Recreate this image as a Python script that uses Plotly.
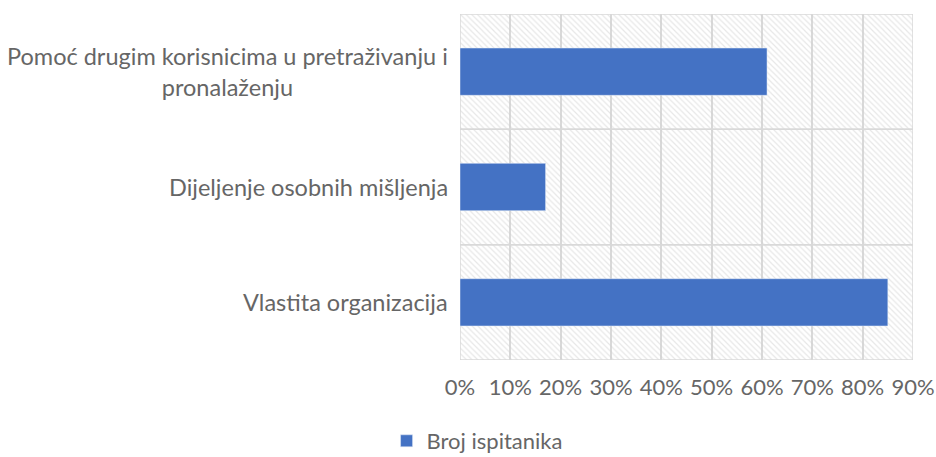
import plotly.graph_objects as go

# categories listed top to bottom
categories = [
    "Pomoć drugim korisnicima u pretraživanju i<br>pronalaženju",
    "Dijeljenje osobnih mišljenja",
    "Vlastita organizacija",
]
values = [0.61, 0.17, 0.85]
series_name = "Broj ispitanika"
x_max = 0.9

grid = "#d9d9d9"
text_color = "#666666"
font_family = "Lato, Open Sans, sans-serif"

fig = go.Figure()

# hatched background bands (one per category) to mimic the patterned plot area
fig.add_trace(go.Bar(
    y=categories,
    x=[x_max] * len(categories),
    orientation="h",
    width=1,
    marker=dict(
        color="rgba(0,0,0,0)",
        line=dict(color=grid, width=1.5),
        pattern=dict(shape="\\", fgcolor="#d0d0d0", bgcolor="rgba(0,0,0,0)",
                     size=4, solidity=0.3),
    ),
    showlegend=False,
    hoverinfo="skip",
))

fig.add_trace(go.Bar(
    y=categories,
    x=values,
    orientation="h",
    width=0.41,
    name=series_name,
    marker=dict(color="#4472C4"),
))

# centered multi-line category labels
for cat in categories:
    fig.add_annotation(
        text=cat, xref="paper", yref="y", x=0, y=cat,
        xanchor="right", yanchor="middle", xshift=-10,
        align="center", showarrow=False,
        font=dict(size=23.5, color=text_color, family=font_family),
    )

fig.update_xaxes(
    range=[0, x_max], dtick=0.1, tickformat=".0%",
    showgrid=True, gridcolor=grid, gridwidth=1.5,
    zeroline=False, showline=False, automargin=False,
    tickfont=dict(size=22, color=text_color),
    ticklabelstandoff=12,
)
fig.update_yaxes(
    autorange="reversed", showticklabels=False, showgrid=False,
    zeroline=False, showline=False, automargin=False,
)

fig.update_layout(
    width=936, height=457,
    barmode="overlay",
    plot_bgcolor="white", paper_bgcolor="white",
    font=dict(family=font_family, color=text_color),
    margin=dict(l=460, r=23, t=14, b=97, autoexpand=False),
    showlegend=True,
    legend=dict(
        orientation="h", xref="container", yref="container",
        x=0.413, xanchor="left", y=0.035, yanchor="middle",
        itemwidth=30,
        font=dict(size=22, color=text_color),
    ),
)

fig.write_html("out.html", config={"displayModeBar": False},
               post_script="document.body.style.margin='0';")
